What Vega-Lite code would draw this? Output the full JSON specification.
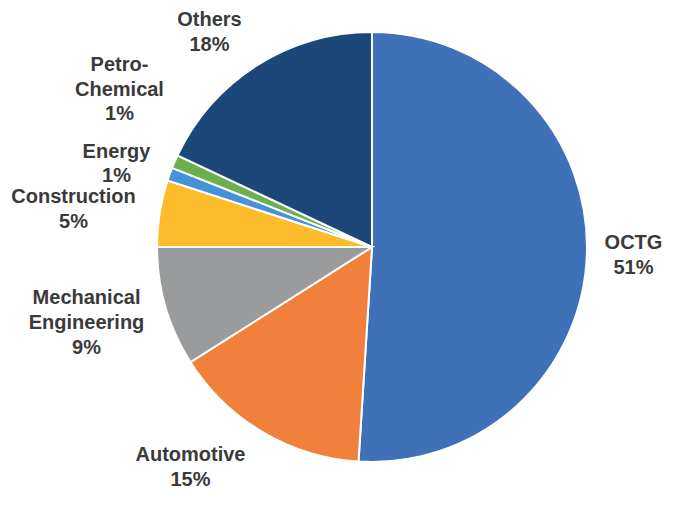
{
  "$schema": "https://vega.github.io/schema/vega-lite/v6.json",
  "autosize": "none",
  "width": 600,
  "height": 494,
  "padding": {"left": 72, "top": 0, "right": 15, "bottom": 14},
  "background": "white",
  "config": {"view": {"stroke": null}},
  "data": {
    "values": [
      {"category": "OCTG", "value": 51, "order": 1, "label": "OCTG\n51%"},
      {"category": "Automotive", "value": 15, "order": 2, "label": "Automotive\n15%"},
      {"category": "Mechanical Engineering", "value": 9, "order": 3, "label": "Mechanical\nEngineering\n9%"},
      {"category": "Construction", "value": 5, "order": 4, "label": "Construction\n5%"},
      {"category": "Energy", "value": 1, "order": 5, "label": "Energy\n1%"},
      {"category": "Petro-Chemical", "value": 1, "order": 6, "label": "Petro-\nChemical\n1%"},
      {"category": "Others", "value": 18, "order": 7, "label": "Others\n18%"}
    ]
  },
  "encoding": {
    "theta": {"field": "value", "type": "quantitative", "stack": true},
    "order": {"field": "order", "type": "quantitative"}
  },
  "layer": [
    {
      "mark": {"type": "arc", "radius": 215, "stroke": "white", "strokeWidth": 2},
      "encoding": {
        "color": {
          "field": "category", "type": "nominal", "legend": null,
          "scale": {
            "domain": ["OCTG", "Automotive", "Mechanical Engineering", "Construction", "Energy", "Petro-Chemical", "Others"],
            "range": ["#3F71B9", "#F0803C", "#9A9B9C", "#FDBC2B", "#4592D6", "#6BB04A", "#1B4879"]
          }
        }
      }
    },
    {
      "mark": {"type": "text", "radius": 255, "dx": 6.6, "dy": -12, "font": "Liberation Sans", "fontWeight": "bold", "fontSize": 20, "lineHeight": 25, "lineBreak": "\n", "align": "center", "baseline": "middle", "color": "#3A3A3A"},
      "encoding": {"text": {"condition": {"test": "datum.category == 'OCTG'", "field": "label"}, "value": ""}}
    },
    {
      "mark": {"type": "text", "radius": 255, "dx": -51.7, "dy": -11.5, "font": "Liberation Sans", "fontWeight": "bold", "fontSize": 20, "lineHeight": 25, "lineBreak": "\n", "align": "center", "baseline": "middle", "color": "#3A3A3A"},
      "encoding": {"text": {"condition": {"test": "datum.category == 'Automotive'", "field": "label"}, "value": ""}}
    },
    {
      "mark": {"type": "text", "radius": 255, "dx": -40.6, "dy": -20.1, "font": "Liberation Sans", "fontWeight": "bold", "fontSize": 20, "lineHeight": 25, "lineBreak": "\n", "align": "center", "baseline": "middle", "color": "#3A3A3A"},
      "encoding": {"text": {"condition": {"test": "datum.category == 'Mechanical Engineering'", "field": "label"}, "value": ""}}
    },
    {
      "mark": {"type": "text", "radius": 255, "dx": -46.6, "dy": -10.1, "font": "Liberation Sans", "fontWeight": "bold", "fontSize": 20, "lineHeight": 25, "lineBreak": "\n", "align": "center", "baseline": "middle", "color": "#3A3A3A"},
      "encoding": {"text": {"condition": {"test": "datum.category == 'Construction'", "field": "label"}, "value": ""}}
    },
    {
      "mark": {"type": "text", "radius": 255, "dx": -15.6, "dy": -9.1, "font": "Liberation Sans", "fontWeight": "bold", "fontSize": 20, "lineHeight": 24, "lineBreak": "\n", "align": "center", "baseline": "middle", "color": "#3A3A3A"},
      "encoding": {"text": {"condition": {"test": "datum.category == 'Energy'", "field": "label"}, "value": ""}}
    },
    {
      "mark": {"type": "text", "radius": 255, "dx": -18.5, "dy": -80.7, "font": "Liberation Sans", "fontWeight": "bold", "fontSize": 20, "lineHeight": 24.5, "lineBreak": "\n", "align": "center", "baseline": "middle", "color": "#3A3A3A"},
      "encoding": {"text": {"condition": {"test": "datum.category == 'Petro-Chemical'", "field": "label"}, "value": ""}}
    },
    {
      "mark": {"type": "text", "radius": 255, "dx": -25.9, "dy": -11.7, "font": "Liberation Sans", "fontWeight": "bold", "fontSize": 20, "lineHeight": 25, "lineBreak": "\n", "align": "center", "baseline": "middle", "color": "#3A3A3A"},
      "encoding": {"text": {"condition": {"test": "datum.category == 'Others'", "field": "label"}, "value": ""}}
    }
  ]
}
